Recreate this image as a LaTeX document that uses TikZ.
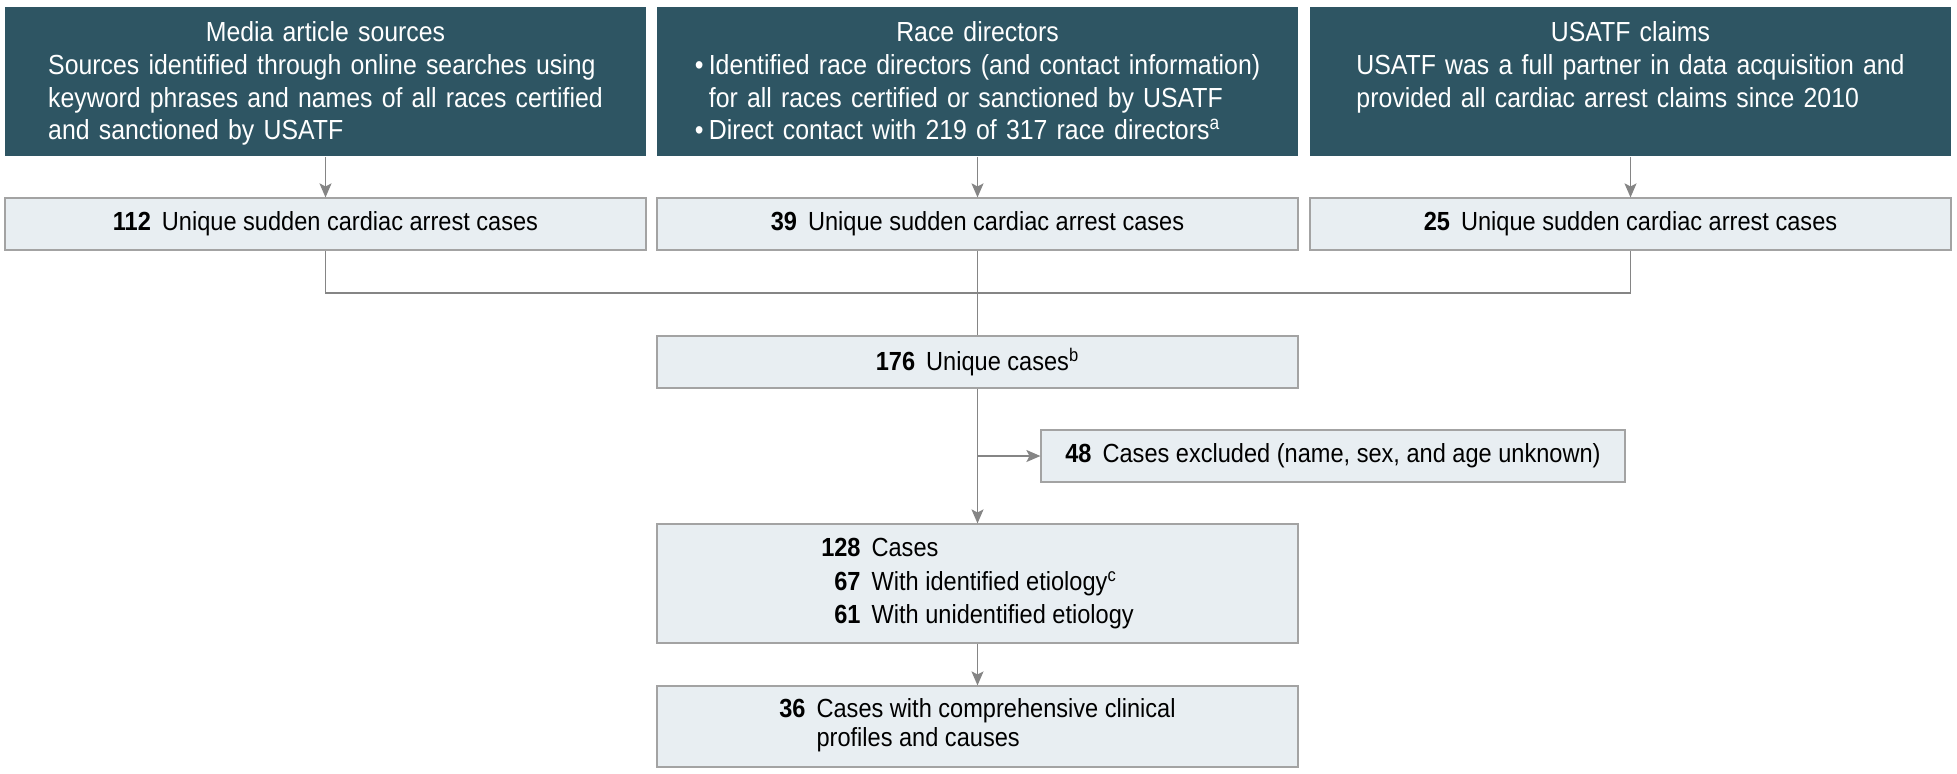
\documentclass[tikz,border=0pt]{standalone}
\usepackage{fontspec}
\setmainfont{Liberation Sans}[FakeStretch=0.9]
\usetikzlibrary{arrows.meta}

\definecolor{srcfill}{HTML}{2E5563}
\definecolor{casefill}{HTML}{E8EEF2}
\definecolor{edgegray}{HTML}{A3A3A3}
\definecolor{linkgray}{HTML}{858585}

\newcommand{\casenum}[1]{\textbf{#1}\hspace{5.5pt}}

\begin{document}
\begin{tikzpicture}[x=0.5pt, y=-0.5pt,
  srcbox/.style={fill=srcfill, text=white, text width=320.5pt, inner xsep=0pt,
    inner ysep=7.4pt, text height=9.8pt, text depth=49.9pt, align=center,
    anchor=north, font=\fontsize{13.8}{16.35}\selectfont},
  casebox/.style={draw=edgegray, line width=0.6pt, fill=casefill,
    minimum width=320.5pt, minimum height=26pt, inner sep=0pt,
    font=\fontsize{13.1}{14.2}\selectfont},
  link/.style={draw=linkgray, line width=0.65pt},
  >={Stealth[length=7pt,width=6pt,inset=1.5pt]}]
  \useasboundingbox (0,0) rectangle (1957,773);

  % Sources
  \node[srcbox] (media) at (325.5,7) {Media article sources\\
    \begin{tabular}[t]{@{}l@{}}Sources identified through online searches using\\
    keyword phrases and names of all races certified\\
    and sanctioned by USATF\end{tabular}};
  \node[srcbox] (race) at (977.5,7) {Race directors\\
    \begin{tabular}[t]{@{}l@{}}\makebox[7pt][l]{\textbullet}Identified race directors (and contact information)\\
    \hspace{7pt}for all races certified or sanctioned by USATF\\
    \makebox[7pt][l]{\textbullet}Direct contact with 219 of 317 race directors\textsuperscript{a}\end{tabular}};
  \node[srcbox] (usatf) at (1630.5,7) {USATF claims\\
    \begin{tabular}[t]{@{}l@{}}USATF was a full partner in data acquisition and\\
    provided all cardiac arrest claims since 2010\end{tabular}};

  \node[casebox] (mcount) at (325.5,224) {\casenum{112}Unique sudden cardiac arrest cases};
  \node[casebox] (rcount) at (977.5,224) {\casenum{39}Unique sudden cardiac arrest cases};
  \node[casebox] (ucount) at (1630.5,224) {\casenum{25}Unique sudden cardiac arrest cases};

  % Merged cases
  \node[casebox] (total) at (977.5,362) {\casenum{176}Unique cases\textsuperscript{b}};
  \node[casebox, minimum width=292pt] (excl) at (1333,456) {\casenum{48}Cases excluded (name, sex, and age unknown)};
  \node[casebox, minimum height=59.5pt] (cases) at (977.5,583.5) {\fontsize{13.1}{16.7}\selectfont
    \begin{tabular}{@{}r@{\hspace{5.5pt}}l@{}}\textbf{128} & Cases\\
    \textbf{67} & With identified etiology\textsuperscript{c}\\
    \textbf{61} & With unidentified etiology\end{tabular}};
  \node[casebox, minimum height=40.5pt] (clin) at (977.5,726.5) {%
    \begin{tabular}{@{}r@{\hspace{5.5pt}}l@{}}\textbf{36} & Cases with comprehensive clinical\\
    & profiles and causes\end{tabular}};

  \coordinate (merge) at (977.5,293);
  \draw[link,->] (media) -- (mcount);
  \draw[link,->] (race) -- (rcount);
  \draw[link,->] (usatf) -- (ucount);
  \draw[link] (mcount) |- (merge) -| (ucount);
  \draw[link] (rcount) -- (total);
  \draw[link,->] (total) -- (cases);
  \draw[link,->] (total |- excl) -- (excl);
  \draw[link,->] (cases) -- (clin);
\end{tikzpicture}
\end{document}
